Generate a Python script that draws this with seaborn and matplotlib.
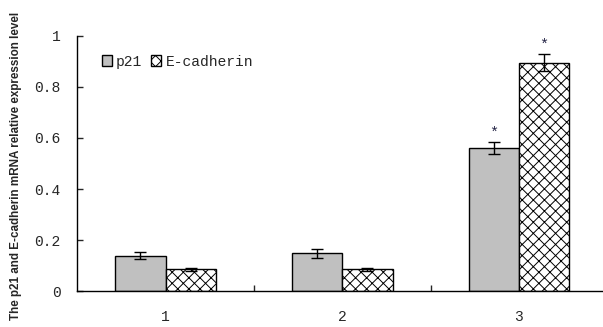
import matplotlib
matplotlib.use('Agg')
import matplotlib.pyplot as plt
import seaborn as sns
import pandas as pd
import numpy as np

# 데이터
groups = ['1', '2', '3']
genes = ['p21', 'E-cadherin']
p21_mean = [0.138, 0.148, 0.561]
p21_err = [0.014, 0.017, 0.022]
ecad_mean = [0.085, 0.085, 0.895]
ecad_err = [0.007, 0.005, 0.033]
star_groups = ['3']

df = pd.DataFrame({
    'group': groups * 2,
    'gene': [genes[0]] * 3 + [genes[1]] * 3,
    'value': p21_mean + ecad_mean,
    'err': p21_err + ecad_err,
})

sns.set_style('white')
plt.rcParams['font.family'] = ['Liberation Mono', 'DejaVu Sans']
plt.rcParams['hatch.linewidth'] = 0.7

fig = plt.figure(figsize=(6.03, 3.27), dpi=100)
ax = fig.add_axes([0.128, 0.110, 0.879, 0.780])

sns.barplot(data=df, x='group', y='value', hue='gene', order=groups, hue_order=genes,
            palette=['#c0c0c0', 'white'], width=0.57, errorbar=None,
            edgecolor='black', linewidth=1.0, ax=ax, legend=False)

bar_conts = list(ax.containers)

# 해치 + 에러바 + 별표
for ci, cont in enumerate(bar_conts):
    sub = df[df['gene'] == genes[ci]].set_index('group').loc[groups]
    for bar, g in zip(cont.patches, groups):
        if ci == 1:
            bar.set_hatch('xxx')
        x = bar.get_x() + bar.get_width() / 2
        v = sub.loc[g, 'value']
        e = sub.loc[g, 'err']
        ax.errorbar(x, v, yerr=e, fmt='none', ecolor='black', elinewidth=1.0,
                    capsize=4, capthick=1.0)
        if g in star_groups:
            ax.text(x, v + e + 0.008, '*', ha='center', va='bottom', fontsize=11,
                    color='#222244')

ax.set_xlim(-0.5, 2.5)
ax.set_ylim(0, 1)
ax.set_yticks([0, 0.2, 0.4, 0.6, 0.8, 1])
ax.set_yticklabels(['0', '0.2', '0.4', '0.6', '0.8', '1'])
ax.set_xticks([0.5, 1.5], minor=True)
ax.tick_params(axis='x', which='major', length=0, pad=14, labelsize=10.5)
ax.tick_params(axis='x', which='minor', direction='in', length=4, width=1, bottom=True)
ax.tick_params(axis='y', direction='in', length=4, width=1, left=True, pad=12, labelsize=10.5)
for s in ['top', 'right']:
    ax.spines[s].set_visible(False)
for s in ['left', 'bottom']:
    ax.spines[s].set_color('black')
    ax.spines[s].set_linewidth(1.0)

ax.set_xlabel('')
ax.set_ylabel('The p21 and E-cadherin mRNA relative expression level',
              family='Liberation Sans', fontweight='bold', fontsize=8.4)
ax.yaxis.set_label_coords(-0.104, 0.49)

handles = [bar_conts[0].patches[0], bar_conts[1].patches[0]]
ax.legend(handles, genes, loc='upper left', bbox_to_anchor=(0.035, 0.95), frameon=False,
          ncol=2, fontsize=10.5, handlelength=0.7, handleheight=0.7, handletextpad=0.3,
          columnspacing=0.6, borderaxespad=0)

fig.savefig('out.png', dpi=100)
